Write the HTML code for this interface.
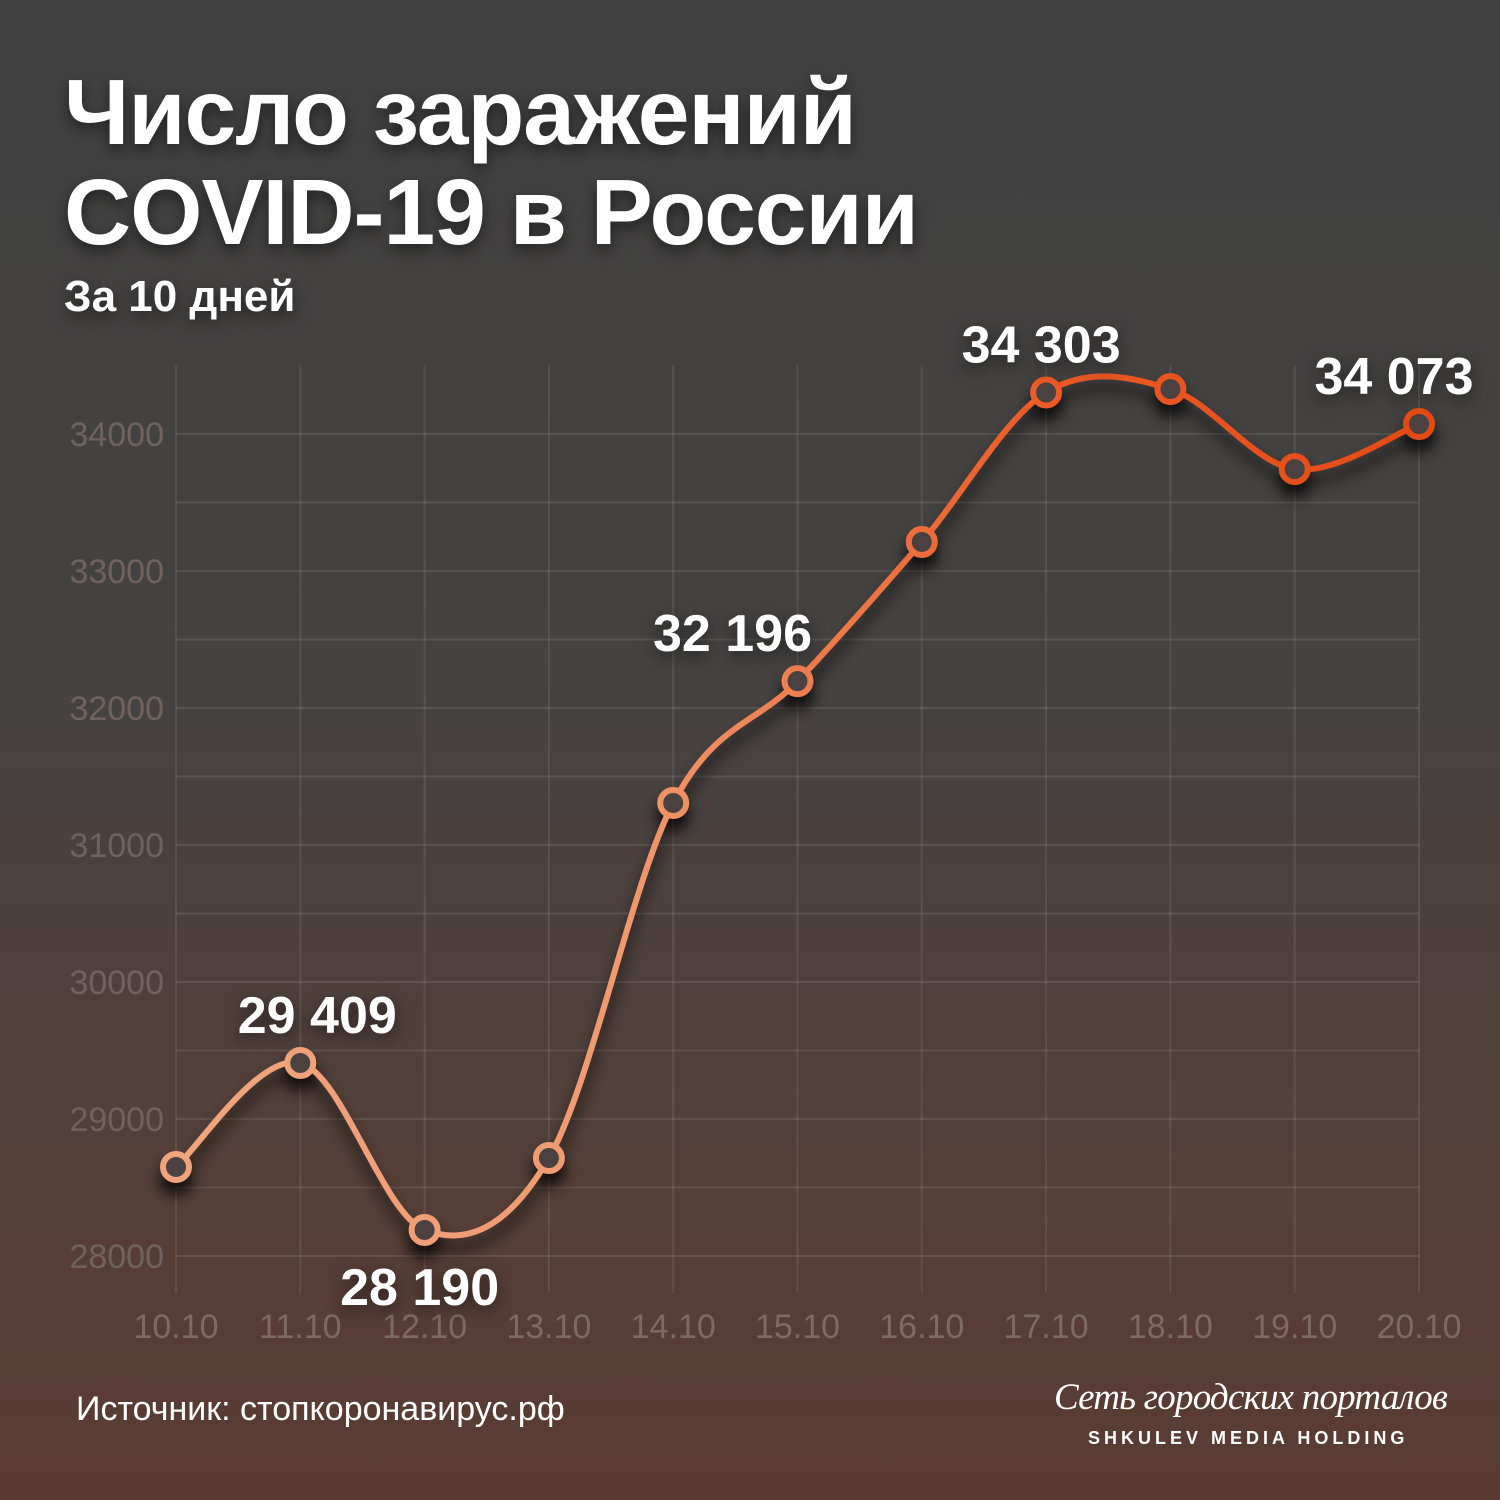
<!DOCTYPE html>
<html><head><meta charset="utf-8"><style>
html,body{margin:0;padding:0}
body{width:1500px;height:1500px;overflow:hidden;background:linear-gradient(180deg,#414141 0%,#454241 45%,#553f38 80%,#5a3b33 100%);font-family:"Liberation Sans","DejaVu Sans",sans-serif;position:relative}
.t{position:absolute;color:#fff;font-weight:bold;text-shadow:0 6px 14px rgba(0,0,0,.5)}
</style></head><body>
<div class="t" style="left:64px;top:62px;font-size:93px;line-height:100px;letter-spacing:-1px">Число заражений<br>COVID-19 в России</div>
<div class="t" style="left:64px;top:272px;font-size:44px;font-family:'Liberation Sans',sans-serif">За 10 дней</div>
<svg id="c" width="1500" height="1500" style="position:absolute;left:0;top:0">
<defs>
<linearGradient id="lg" x1="176" y1="0" x2="1419" y2="0" gradientUnits="userSpaceOnUse"><stop offset="0" stop-color="#f0a47e"/><stop offset="0.35" stop-color="#f09a70"/><stop offset="0.7" stop-color="#ea5a26"/><stop offset="1" stop-color="#e44a16"/></linearGradient>
<filter id="sh" x="-20%" y="-20%" width="140%" height="160%"><feGaussianBlur stdDeviation="7"/></filter>
</defs>
<g id="grid"></g><g id="ax"></g><g id="shadow" filter="url(#sh)" opacity="0.75"></g><g id="ln"></g><g id="lb"></g>
</svg>
<div style="position:absolute;left:76px;top:1390px;color:#fff;font-size:34px">Источник: стопкоронавирус.рф</div>
<div style="position:absolute;left:1054px;top:1376px;color:#fff;font-size:37px;font-style:italic;font-family:'Liberation Serif',serif;letter-spacing:-0.8px">Сеть городских порталов</div>
<div style="position:absolute;left:1088px;top:1428px;color:#fff;font-size:18px;font-weight:900;letter-spacing:4px">SHKULEV MEDIA HOLDING</div>
<script>
const categories=["10.10","11.10","12.10","13.10","14.10","15.10","16.10","17.10","18.10","19.10","20.10"];
const values=[28650,29409,28190,28715,31307,32196,33212,34303,34328,33744,34073];
const yTicks=[28000,29000,30000,31000,32000,33000,34000];
const labelIdx=[1,2,5,7,10];
const labelText=["29 409","28 190","32 196","34 303","34 073"];
const labelBelow=[false,true,false,false,false];
const NS="http://www.w3.org/2000/svg";
const X=i=>176+i*(1419-176)/(categories.length-1);
const Y=v=>1256-(v-28000)*0.137;
function mk(t,a,p){const e=document.createElementNS(NS,t);for(const k in a)e.setAttribute(k,a[k]);p.appendChild(e);return e;}
const grid=document.getElementById('grid'),ax=document.getElementById('ax');
for(let v=28000;v<=34000;v+=500){const l=mk('line',{x1:176,x2:1419,y1:Y(v),y2:Y(v),stroke:'rgba(255,255,255,0.09)','stroke-width':2},grid);
}
categories.forEach((c,i)=>{const l=mk('line',{x1:X(i),x2:X(i),y1:365,y2:1293,stroke:'rgba(255,255,255,0.09)','stroke-width':2},grid);

const t=mk('text',{x:X(i),y:1338,'text-anchor':'middle','font-size':34,fill:'#7d6a62'},ax);t.textContent=c;
});
yTicks.forEach(v=>{const t=mk('text',{x:164,y:Y(v)+12,'text-anchor':'end','font-size':34,fill:'#6f625d'},ax);t.textContent=v;
});
const P=values.map((v,i)=>[X(i),Y(v)]);
const n=P.length;
let path=`M${P[0][0]},${P[0][1]}`;
for(let i=0;i<n-1;i++){const p0=P[Math.max(0,i-1)],p1=P[i],p2=P[i+1],p3=P[Math.min(n-1,i+2)];
path+=` C${p1[0]+(p2[0]-p0[0])/6},${p1[1]+(p2[1]-p0[1])/6} ${p2[0]-(p3[0]-p1[0])/6},${p2[1]-(p3[1]-p1[1])/6} ${p2[0]},${p2[1]}`;}
const sg=document.getElementById('shadow'),ln=document.getElementById('ln');
mk('path',{d:path,fill:'none',stroke:'#000','stroke-width':6,transform:'translate(0,12)'},sg);
P.forEach(p=>mk('circle',{cx:p[0],cy:p[1]+12,r:17,fill:'#000'},sg));
const lp=mk('path',{d:path,fill:'none',stroke:'url(#lg)','stroke-width':6},ln);

P.forEach((p,i)=>{const c=mk('circle',{cx:p[0],cy:p[1],r:13,fill:'#4a4140',stroke:'url(#lg)','stroke-width':6},ln);
});
const lb=document.getElementById('lb');
labelIdx.forEach((idx,k)=>{const p=P[idx];const t=mk('text',{x:p[0]+(idx==10?-25:(idx==1?17:(idx==5?-65:-5))),y:labelBelow[k]?p[1]+75:p[1]-30,'text-anchor':'middle','font-size':52,'font-weight':'bold',fill:'#fff',style:'filter:drop-shadow(0 5px 8px rgba(0,0,0,.5))'},lb);
t.textContent=labelText[k];});
</script>
</body></html>
